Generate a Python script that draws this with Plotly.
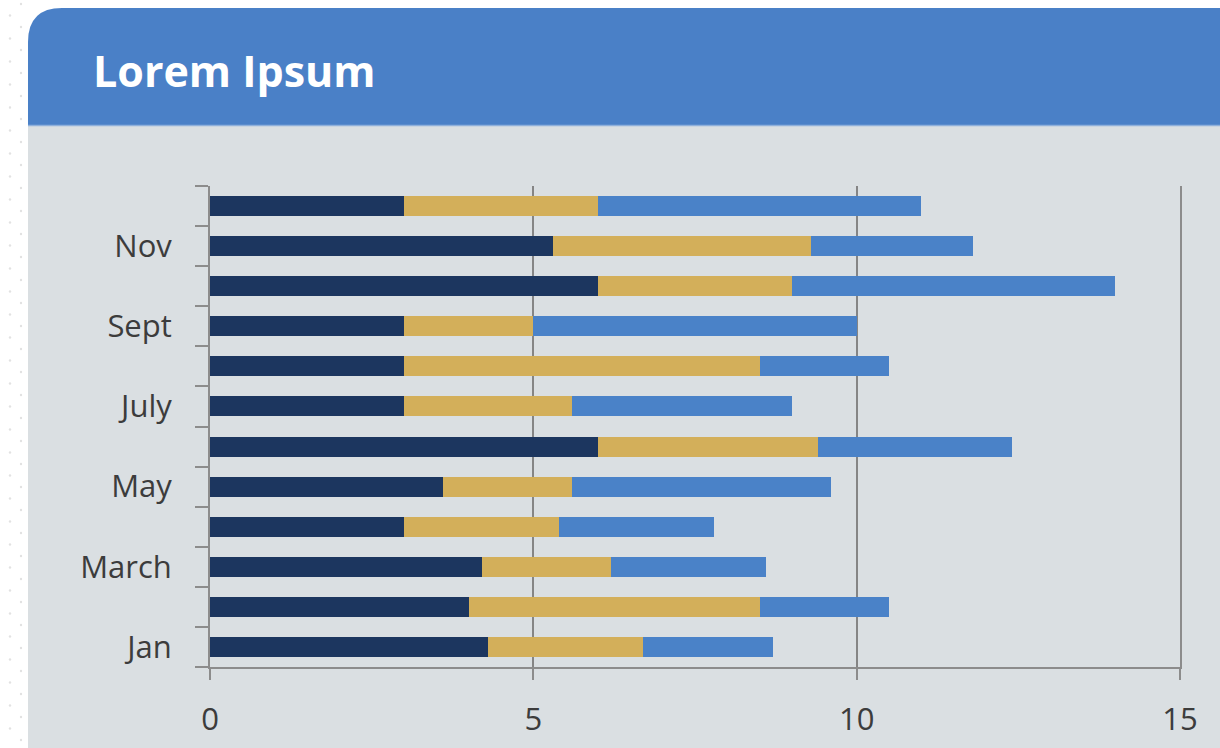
import plotly.graph_objects as go

# Monthly values for the three stacked series
months = ["Jan", "Feb", "March", "April", "May", "June",
          "July", "Aug", "Sept", "Oct", "Nov", "Dec"]
series_a = [4.3, 4.0, 4.2, 3.0, 3.6, 6.0, 3.0, 3.0, 3.0, 6.0, 5.3, 3.0]
series_b = [2.4, 4.5, 2.0, 2.4, 2.0, 3.4, 2.6, 5.5, 2.0, 3.0, 4.0, 3.0]
series_c = [2.0, 2.0, 2.4, 2.4, 4.0, 3.0, 3.4, 2.0, 5.0, 5.0, 2.5, 5.0]
series_names = ["Series 1", "Series 2", "Series 3"]
series_colors = ["#1C365F", "#D3AF5A", "#4A82C8"]

# Only every other month is labelled on the axis
month_labels = [m if i % 2 == 0 else "" for i, m in enumerate(months)]
x_ticks = [0, 5, 10, 15]

W, H = 1220, 748
ML, MR, MT, MB = 210, 40, 186, 81
PW, PH = W - ML - MR, H - MT - MB
PANEL_X, HEADER_TOP, HEADER_BOTTOM = 28, 8, 125
RADIUS = 34


def fx(x):
    """pixel x -> paper x"""
    return (x - ML) / PW


def fy(y):
    """pixel y (from top) -> paper y"""
    return (H - MB - y) / PH


def pt(x, y):
    return f"{fx(x):.5f},{fy(y):.5f}"


fig = go.Figure()
for name, vals, col in zip(series_names, [series_a, series_b, series_c], series_colors):
    fig.add_trace(go.Bar(
        y=months, x=vals, name=name, orientation="h",
        marker=dict(color=col, line=dict(width=0)),
        width=0.5,
    ))

shapes = []
# faint dotted texture on the left margin
for row in range(0, 68):
    y = 4 + row * 11.5
    cx = 21 if row % 2 == 0 else 10
    shapes.append(dict(type="circle", xref="paper", yref="paper",
                       x0=fx(cx - 1.2), x1=fx(cx + 1.2),
                       y0=fy(y + 1.2), y1=fy(y - 1.2),
                       fillcolor="#E2E2E2", line=dict(width=0), layer="below"))

# panel body
shapes.append(dict(type="rect", xref="paper", yref="paper",
                   x0=fx(PANEL_X), x1=fx(W), y0=fy(H), y1=fy(HEADER_BOTTOM),
                   fillcolor="#DADFE2", line=dict(width=0), layer="below"))

# header with rounded top-left corner
header_path = (
    f"M {pt(PANEL_X, HEADER_BOTTOM)} "
    f"L {pt(PANEL_X, HEADER_TOP + RADIUS)} "
    f"Q {pt(PANEL_X, HEADER_TOP)} {pt(PANEL_X + RADIUS, HEADER_TOP)} "
    f"L {pt(W, HEADER_TOP)} L {pt(W, HEADER_BOTTOM)} Z"
)
shapes.append(dict(type="path", xref="paper", yref="paper", path=header_path,
                   fillcolor="#4A80C7", line=dict(width=0), layer="below"))
shapes.append(dict(type="line", xref="paper", yref="paper",
                   x0=fx(PANEL_X), x1=fx(W),
                   y0=fy(HEADER_BOTTOM + 0.5), y1=fy(HEADER_BOTTOM + 0.5),
                   line=dict(color="#8FB0DB", width=1.5), layer="below"))

fig.update_layout(
    width=W, height=H,
    barmode="stack",
    showlegend=False,
    paper_bgcolor="#FFFFFF",
    plot_bgcolor="rgba(0,0,0,0)",
    margin=dict(l=ML, r=MR, t=MT, b=MB, autoexpand=False),
    shapes=shapes,
    annotations=[dict(
        text="<b>Lorem Ipsum</b>", xref="paper", yref="paper",
        x=fx(91), y=fy(70), xanchor="left", yanchor="middle",
        showarrow=False,
        font=dict(family="Open Sans", size=43, color="#FFFFFF"),
    )],
    font=dict(family="Open Sans", color="#404040"),
)

fig.update_xaxes(
    range=[0, 15], tickvals=x_ticks, ticktext=[str(v) for v in x_ticks],
    showgrid=True, gridcolor="#858585", gridwidth=1.5,
    showline=True, linecolor="#8C8C8C", linewidth=2,
    ticks="outside", ticklen=11, tickcolor="#8C8C8C", tickwidth=2,
    ticklabelstandoff=13,
    tickfont=dict(size=31, color="#3C3C3C"),
    zeroline=False, automargin=False,
)
fig.update_yaxes(
    type="category", categoryorder="array", categoryarray=months,
    tickmode="array", tickvals=months, ticktext=month_labels,
    tickson="boundaries",
    range=[-0.5, 11.5],
    showgrid=False,
    showline=True, linecolor="#8C8C8C", linewidth=2, mirror=True,
    ticks="outside", ticklen=13, tickcolor="#8C8C8C", tickwidth=2,
    ticklabelstandoff=30,
    tickfont=dict(size=31, color="#3C3C3C"),
    automargin=False,
)

fig.write_html("out.html")
